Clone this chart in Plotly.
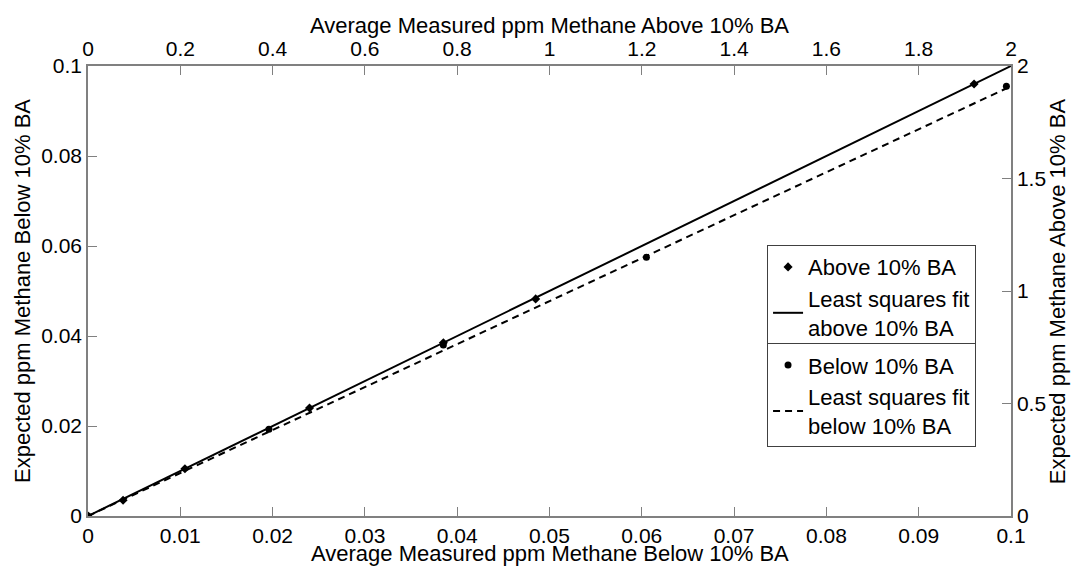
import plotly.graph_objects as go

# Above 10% BA (top / right axes, 0-2)
above_x = [0.0, 0.076, 0.21, 0.48, 0.77, 0.97, 1.92]
above_y = [0.0, 0.07, 0.21, 0.48, 0.77, 0.965, 1.92]
above_fit_x = [0.0, 2.0]
above_fit_y = [0.0, 2.0]

# Below 10% BA (bottom / left axes, 0-0.1)
below_x = [0.0, 0.0196, 0.0385, 0.0605, 0.0995]
below_y = [0.0, 0.0193, 0.038, 0.0575, 0.0955]
below_fit_x = [0.0, 0.1]
below_fit_y = [0.0, 0.0955]

bottom_ticks = [0, 0.01, 0.02, 0.03, 0.04, 0.05, 0.06, 0.07, 0.08, 0.09, 0.1]
bottom_labels = ["0", "0.01", "0.02", "0.03", "0.04", "0.05", "0.06", "0.07", "0.08", "0.09", "0.1"]
left_ticks = [0, 0.02, 0.04, 0.06, 0.08, 0.1]
left_labels = ["0", "0.02", "0.04", "0.06", "0.08", "0.1"]
top_ticks = [0, 0.2, 0.4, 0.6, 0.8, 1.0, 1.2, 1.4, 1.6, 1.8, 2.0]
top_labels = ["0", "0.2", "0.4", "0.6", "0.8", "1", "1.2", "1.4", "1.6", "1.8", "2"]
right_ticks = [0, 0.5, 1.0, 1.5, 2.0]
right_labels = ["0", "0.5", "1", "1.5", "2"]

FONT = "Liberation Sans, Arial, sans-serif"
AXC = "#808080"
TICK_SIZE = 21
TITLE_SIZE = 22
LEG_SIZE = 22

fig = go.Figure()

fig.add_trace(go.Scatter(
    x=above_x, y=above_y, xaxis="x2", yaxis="y2", mode="markers",
    marker=dict(symbol="diamond", size=7, color="black"),
    name="Above 10% BA", legend="legend"))
fig.add_trace(go.Scatter(
    x=above_fit_x, y=above_fit_y, xaxis="x2", yaxis="y2", mode="lines",
    line=dict(color="black", width=2),
    name="Least squares fit<br>above 10% BA", legend="legend"))
fig.add_trace(go.Scatter(
    x=below_x, y=below_y, xaxis="x", yaxis="y", mode="markers",
    marker=dict(symbol="circle", size=7, color="black"),
    name="Below 10% BA", legend="legend2"))
fig.add_trace(go.Scatter(
    x=below_fit_x, y=below_fit_y, xaxis="x", yaxis="y", mode="lines",
    line=dict(color="black", width=2, dash="7px,5px"),
    name="Least squares fit<br>below 10% BA", legend="legend2"))

axis_common = dict(
    showgrid=False, zeroline=False, showline=True, linecolor=AXC, linewidth=1.5,
    ticks="inside", ticklen=9, tickcolor=AXC, tickwidth=1,
    tickfont=dict(family=FONT, size=TICK_SIZE, color="black"),
)

title_font = dict(family=FONT, size=TITLE_SIZE, color="black")
annotations = [
    dict(text="Average Measured ppm Methane Below 10% BA", xref="paper", yref="paper",
         x=0.5, y=-0.1133, xanchor="center", yanchor="bottom", showarrow=False,
         font=title_font, borderpad=0),
    dict(text="Average Measured ppm Methane Above 10% BA", xref="paper", yref="paper",
         x=0.5, y=1.091, xanchor="center", yanchor="middle", showarrow=False, font=title_font),
    dict(text="Expected ppm Methane Below 10% BA", xref="paper", yref="paper",
         x=-0.0715, y=0.5, xanchor="center", yanchor="middle", textangle=-90,
         showarrow=False, font=title_font),
    dict(text="Expected ppm Methane Above 10% BA", xref="paper", yref="paper",
         x=1.05, y=0.5, xanchor="center", yanchor="middle", textangle=-90,
         showarrow=False, font=title_font),
]

fig.update_layout(
    width=1074, height=567,
    margin=dict(l=88, r=63, t=66, b=51),
    paper_bgcolor="white", plot_bgcolor="white",
    font=dict(family=FONT, size=TICK_SIZE, color="black"),
    xaxis=dict(range=[0, 0.1], tickvals=bottom_ticks, ticktext=bottom_labels,
               side="bottom", **axis_common),
    yaxis=dict(range=[0, 0.1], tickvals=left_ticks, ticktext=left_labels,
               side="left", **axis_common),
    xaxis2=dict(range=[0, 2], tickvals=top_ticks, ticktext=top_labels,
                side="top", overlaying="x", anchor="y", **axis_common),
    yaxis2=dict(range=[0, 2], tickvals=right_ticks, ticktext=right_labels,
                side="right", overlaying="y", anchor="x", **axis_common),
    legend=dict(x=0.7357, y=0.602, xanchor="left", yanchor="top",
                bgcolor="white", bordercolor="#404040", borderwidth=1,
                font=dict(family=FONT, size=LEG_SIZE, color="black"),
                itemwidth=30, tracegroupgap=0),
    legend2=dict(x=0.7357, y=0.384, xanchor="left", yanchor="top",
                 bgcolor="white", bordercolor="#404040", borderwidth=1,
                 font=dict(family=FONT, size=LEG_SIZE, color="black"),
                 itemwidth=30, tracegroupgap=0),
    annotations=annotations,
    showlegend=True,
)

fig.write_html(
    "out.html",
    config={"displayModeBar": False},
    post_script="document.body.style.margin='0px';document.body.style.overflow='hidden';",
)
